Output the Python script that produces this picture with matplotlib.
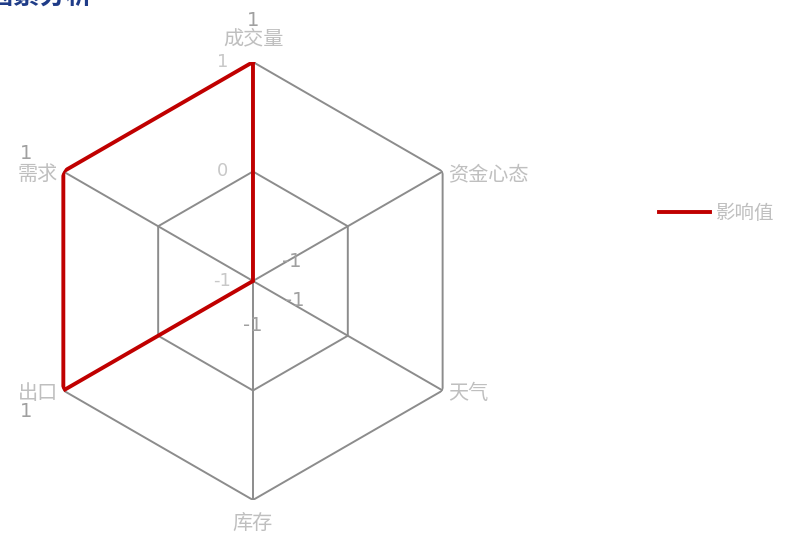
import numpy as np
import matplotlib.pyplot as plt

plt.rcParams['font.family'] = ['Noto Sans CJK SC', 'DejaVu Sans']

# data
categories = ['成交量', '资金心态', '天气', '库存', '出口', '需求']
values = [1, -1, -1, -1, 1, 1]
value_labels = ['1', '-1', '-1', '-1', '1', '1']
ring_levels = [-1, 0, 1]
ring_labels = ['-1', '0', '1']
series_name = '影响值'
title = '影响因素分析'

fig = plt.figure(figsize=(7.87, 5.34), dpi=100)
ax = fig.add_axes([0.0432, 0.0637, 0.5565, 0.8202], projection='polar')
ax.set_theta_zero_location('N')
ax.set_theta_direction(-1)
ax.set_ylim(-1, 1)
ax.grid(False)
ax.spines['polar'].set_visible(False)
ax.set_xticks([])
ax.set_yticks([])
ax.patch.set_alpha(0)

n = len(categories)
angles = np.arange(n) * 2 * np.pi / n
closed = np.append(angles, angles[0])

grid_col = '#8c8c8c'
for lv in ring_levels[1:]:
    ax.plot(closed, [lv] * (n + 1), color=grid_col, lw=1.4, zorder=1)
for a in angles:
    ax.plot([a, a], [-1, 1], color=grid_col, lw=1.4, zorder=1)

vals = np.append(values, values[0])
ax.plot(closed, vals, color='#c00000', lw=2.8, zorder=3, label=series_name,
        solid_joinstyle='miter')

# ring tick labels along the top axis
for lv, txt in zip(ring_levels, ring_labels):
    ax.annotate(txt, xy=(0, lv), xytext=(-22, 0), textcoords='offset points',
                ha='center', va='center', fontsize=13, color='#c8c8c8',
                family=['DejaVu Sans'])

# category labels
cat_off = [(0, 17), (4, -2), (4, -2), (0, -17), (-4, -2), (-4, -2)]
cat_ha = ['center', 'left', 'left', 'center', 'right', 'right']
for a, c, off, ha in zip(angles, categories, cat_off, cat_ha):
    ax.annotate(c, xy=(a, 1), xytext=off, textcoords='offset points',
                ha=ha, va='center', fontsize=14.5, color='#bfbfbf')

# data labels
lab_pos = [(0, 30), (28, 14), (30, -14), (0, -32), (-27, -15), (-27, 13)]
for a, v, t, off in zip(angles, values, value_labels, lab_pos):
    ax.annotate(t, xy=(a, v), xytext=off, textcoords='offset points',
                ha='center', va='center', fontsize=14, color='#a0a0a0',
                family=['DejaVu Sans'])

ax.legend(loc='center left', bbox_to_anchor=(1.41, 0.655), frameon=False,
          prop={'size': 14}, labelcolor='#bfbfbf', handlelength=2.6,
          handletextpad=0.3, borderaxespad=0)

fig.text(93 / 787, 1 - 5 / 534, title, ha='right', va='baseline',
         fontsize=19, fontweight='bold', color='#1f3c88')

fig.savefig('out.png', dpi=100)
